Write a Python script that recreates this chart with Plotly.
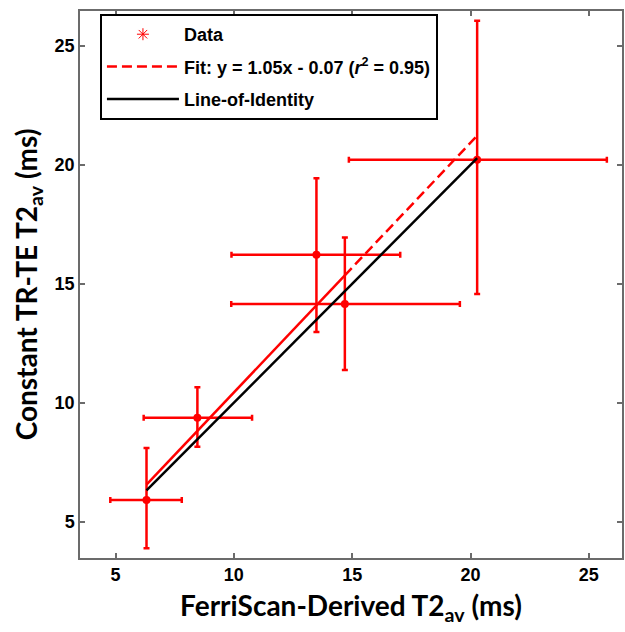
import plotly.graph_objects as go

# ---- data ----
x_vals = [6.31, 8.46, 13.49, 14.69, 20.28]
y_vals = [5.91, 9.37, 16.22, 14.15, 20.22]
x_low = [4.78, 6.19, 9.90, 9.89, 14.86]
x_high = [7.80, 10.77, 17.03, 19.55, 25.76]
y_low = [3.88, 8.15, 12.97, 11.38, 14.57]
y_high = [8.09, 10.65, 19.44, 16.95, 26.06]
fit_slope = 1.05
fit_intercept = -0.07
tick_vals = [5, 10, 15, 20, 25]

RED = "#FF0000"

ex_plus = [h - v for h, v in zip(x_high, x_vals)]
ex_minus = [v - l for l, v in zip(x_low, x_vals)]
ey_plus = [h - v for h, v in zip(y_high, y_vals)]
ey_minus = [v - l for l, v in zip(y_low, y_vals)]

x_min, x_max = min(x_vals), max(x_vals)
x_mid = sorted(x_vals)[3]

fig = go.Figure()

# legend-only entry for Data (asterisk marker)
fig.add_trace(go.Scatter(
    x=[None], y=[None], mode="markers", name="Data",
    marker=dict(symbol="asterisk-open", size=10, color=RED,
                line=dict(color=RED, width=1)),
    legendgroup="a",
))

# actual data with error bars
fig.add_trace(go.Scatter(
    x=x_vals, y=y_vals, mode="markers", showlegend=False,
    marker=dict(symbol="circle", size=8, color=RED),
    error_x=dict(type="data", symmetric=False, array=ex_plus, arrayminus=ex_minus,
                 color=RED, thickness=2.5, width=3),
    error_y=dict(type="data", symmetric=False, array=ey_plus, arrayminus=ey_minus,
                 color=RED, thickness=2.5, width=3),
))

# fit line: appears solid over the overlapping lower part, dashed above
fx1 = [x_min, x_mid]
fig.add_trace(go.Scatter(
    x=fx1, y=[fit_slope * v + fit_intercept for v in fx1], mode="lines",
    showlegend=False, line=dict(color=RED, width=2.5),
))
fx2 = [x_mid, x_max]
fig.add_trace(go.Scatter(
    x=fx2, y=[fit_slope * v + fit_intercept for v in fx2], mode="lines",
    name="Fit: y = 1.05x - 0.07 (<i>r</i><sup>2</sup> = 0.95)",
    line=dict(color=RED, width=2.5, dash="10px,5px"),
    legendgroup="b",
))

# line of identity
fig.add_trace(go.Scatter(
    x=[x_min, x_max], y=[x_min, x_max], mode="lines", name="Line-of-Identity",
    line=dict(color="black", width=2.5),
    legendgroup="c",
))

axis_common = dict(
    showline=True, linecolor="#6b6b6b", linewidth=1.5, mirror="ticks",
    ticks="inside", ticklen=5, tickwidth=1.5, tickcolor="#6b6b6b",
    showgrid=False, zeroline=False,
    tickvals=tick_vals,
    tickfont=dict(family="Liberation Sans, Arial", size=18, color="black", weight="bold"),
)

fig.update_layout(
    width=625, height=632,
    margin=dict(l=80, r=1, t=11, b=74),
    paper_bgcolor="white", plot_bgcolor="white",
    xaxis=dict(range=[3.5, 26.4],
               title=dict(text="FerriScan-Derived T2<sub>av</sub> (ms)",
                          font=dict(family="Lato", size=28, color="black", weight="bold"),
                          standoff=12),
               **axis_common),
    yaxis=dict(range=[3.47, 26.47],
               title=dict(text="Constant TR-TE T2<sub>av</sub> (ms)",
                          font=dict(family="Lato", size=28, color="black", weight="bold"),
                          standoff=9),
               **axis_common),
    legend=dict(
        x=0.0368, y=0.9945, xanchor="left", yanchor="top",
        bgcolor="white", bordercolor="black", borderwidth=2,
        font=dict(family="Liberation Sans, Arial", size=18, color="black", weight="bold"),
        itemwidth=72, traceorder="grouped", tracegroupgap=6,
    ),
    showlegend=True,
)

fig.write_html("out.html")
